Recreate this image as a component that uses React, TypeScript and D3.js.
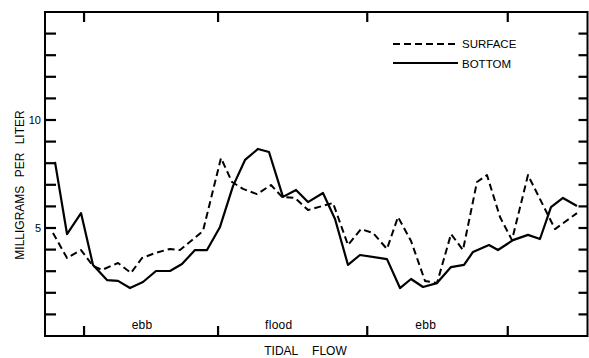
import React from "react";
import * as d3 from "d3";

// Tidal-flow time positions (arbitrary time units, 0–100 across the record)
const bottomTime = [1.84, 4.06, 6.64, 8.85, 11.43, 13.46, 15.67, 18.06, 20.46, 23.04, 25.25, 27.65, 29.86, 32.26, 34.65, 36.87, 39.26, 41.29, 43.87, 46.27, 48.48, 51.24, 53.46, 55.85, 58.06, 63.04, 65.44, 67.47, 69.68, 72.26, 74.84, 77.24, 78.89, 81.84, 83.5, 86.27, 89.03, 91.24, 93.27, 95.48, 98.06];
const bottomValues = [8.06, 4.72, 5.69, 3.29, 2.59, 2.55, 2.22, 2.5, 3.01, 3.01, 3.33, 3.98, 3.98, 5.05, 6.94, 8.15, 8.66, 8.52, 6.44, 6.76, 6.2, 6.62, 5.42, 3.29, 3.75, 3.56, 2.22, 2.64, 2.27, 2.45, 3.19, 3.29, 3.89, 4.21, 3.98, 4.44, 4.68, 4.49, 5.97, 6.39, 6.02];

const surfaceTime = [1.47, 4.06, 6.64, 8.85, 10.51, 13.46, 15.85, 17.88, 20.28, 23.04, 24.88, 29.12, 32.44, 34.47, 36.5, 39.08, 41.66, 43.69, 46.08, 48.48, 53.09, 55.85, 58.25, 60.46, 63.04, 65.07, 67.47, 70.05, 72.26, 74.84, 77.05, 79.63, 81.47, 83.87, 86.08, 89.03, 94.01, 98.06];
const surfaceValues = [4.77, 3.61, 3.98, 3.24, 3.06, 3.38, 2.92, 3.61, 3.84, 4.03, 3.98, 4.86, 8.24, 7.13, 6.81, 6.57, 6.99, 6.44, 6.39, 5.83, 6.16, 4.21, 4.95, 4.77, 4.03, 5.51, 4.4, 2.55, 2.45, 4.72, 3.98, 7.13, 7.45, 5.51, 4.44, 7.45, 4.95, 5.69];

const xTickTimes = [7.2, 31.9, 59.4, 85.3];
const phaseLabels = ["ebb", "flood", "ebb"];
const phasePositions = [17.9, 43.1, 70.2];
const yTickValues = [1, 2, 3, 4, 5, 6, 7, 8, 9, 10, 11, 12, 13, 14];
const yTickLabels = [5, 10];
const seriesNames = ["SURFACE", "BOTTOM"];

const W = 589;
const H = 358;
const FONT = "'Liberation Sans', Arial, Helvetica, sans-serif";

export default function App() {
  const x = d3.scaleLinear().domain([0, 100]).range([45, 587.5]);
  const y = d3.scaleLinear().domain([0, 15]).range([336, 12]);

  const bottomLine = d3
    .line<number>()
    .x((_, i) => x(bottomTime[i]))
    .y((d) => y(d))(bottomValues) as string;
  const surfaceLine = d3
    .line<number>()
    .x((_, i) => x(surfaceTime[i]))
    .y((d) => y(d))(surfaceValues) as string;

  const [x0, x1] = x.range();
  const [y0, y1] = y.range();

  return (
    <svg
      width={W}
      height={H}
      viewBox={`0 0 ${W} ${H}`}
      style={{ position: "absolute", left: 0, top: 0, background: "#fff" }}
    >
      <rect x={0} y={0} width={W} height={H} fill="#fff" />
      {/* frame */}
      <rect x={x0} y={y1} width={x1 - x0} height={y0 - y1} fill="none" stroke="#000" strokeWidth={2} />
      {/* y ticks, left & right */}
      {yTickValues.map((v) => (
        <g key={"yt" + v}>
          <line x1={x0} x2={x0 + 11} y1={y(v)} y2={y(v)} stroke="#000" strokeWidth={2.2} />
          <line x1={x1} x2={x1 - 9} y1={y(v)} y2={y(v)} stroke="#000" strokeWidth={2.2} />
        </g>
      ))}
      {yTickLabels.map((v) => (
        <text
          key={"yl" + v}
          x={41}
          y={y(v)}
          dy="0.36em"
          textAnchor="end"
          fontFamily={FONT}
          fontSize={11}
          fill="#000"
        >
          {v}
        </text>
      ))}
      {/* x ticks, top & bottom */}
      {xTickTimes.map((t) => (
        <g key={"xt" + t}>
          <line x1={x(t)} x2={x(t)} y1={y0} y2={y0 - 10} stroke="#000" strokeWidth={2.2} />
          <line x1={x(t)} x2={x(t)} y1={y1} y2={y1 + 10} stroke="#000" strokeWidth={2.2} />
        </g>
      ))}
      {phaseLabels.map((p, i) => (
        <text
          key={"ph" + i}
          x={x(phasePositions[i])}
          y={329}
          textAnchor="middle"
          fontFamily={FONT}
          fontSize={12}
          letterSpacing={0.3}
          fill="#000"
        >
          {p}
        </text>
      ))}
      {/* data lines */}
      <path d={surfaceLine} fill="none" stroke="#000" strokeWidth={2} strokeDasharray="7,4" strokeLinejoin="round" />
      <path d={bottomLine} fill="none" stroke="#000" strokeWidth={2.2} strokeLinejoin="round" />
      {/* legend */}
      <line x1={393} x2={458} y1={44} y2={44} stroke="#000" strokeWidth={2} strokeDasharray="7,4" />
      <text x={462} y={48} fontFamily={FONT} fontSize={11.5} fill="#000">
        {seriesNames[0]}
      </text>
      <line x1={393} x2={458} y1={63} y2={63} stroke="#000" strokeWidth={2} />
      <text x={462} y={67.5} fontFamily={FONT} fontSize={11.5} fill="#000">
        {seriesNames[1]}
      </text>
      {/* axis titles */}
      <text
        x={305.5}
        y={355}
        textAnchor="middle"
        fontFamily={FONT}
        fontSize={12}
        wordSpacing={11}
        fill="#000"
      >
        TIDAL FLOW
      </text>
      <text
        transform="translate(23.5,185) rotate(-90)"
        textAnchor="middle"
        fontFamily={FONT}
        fontSize={12}
        wordSpacing={5}
        fill="#000"
      >
        MILLIGRAMS PER LITER
      </text>
    </svg>
  );
}
